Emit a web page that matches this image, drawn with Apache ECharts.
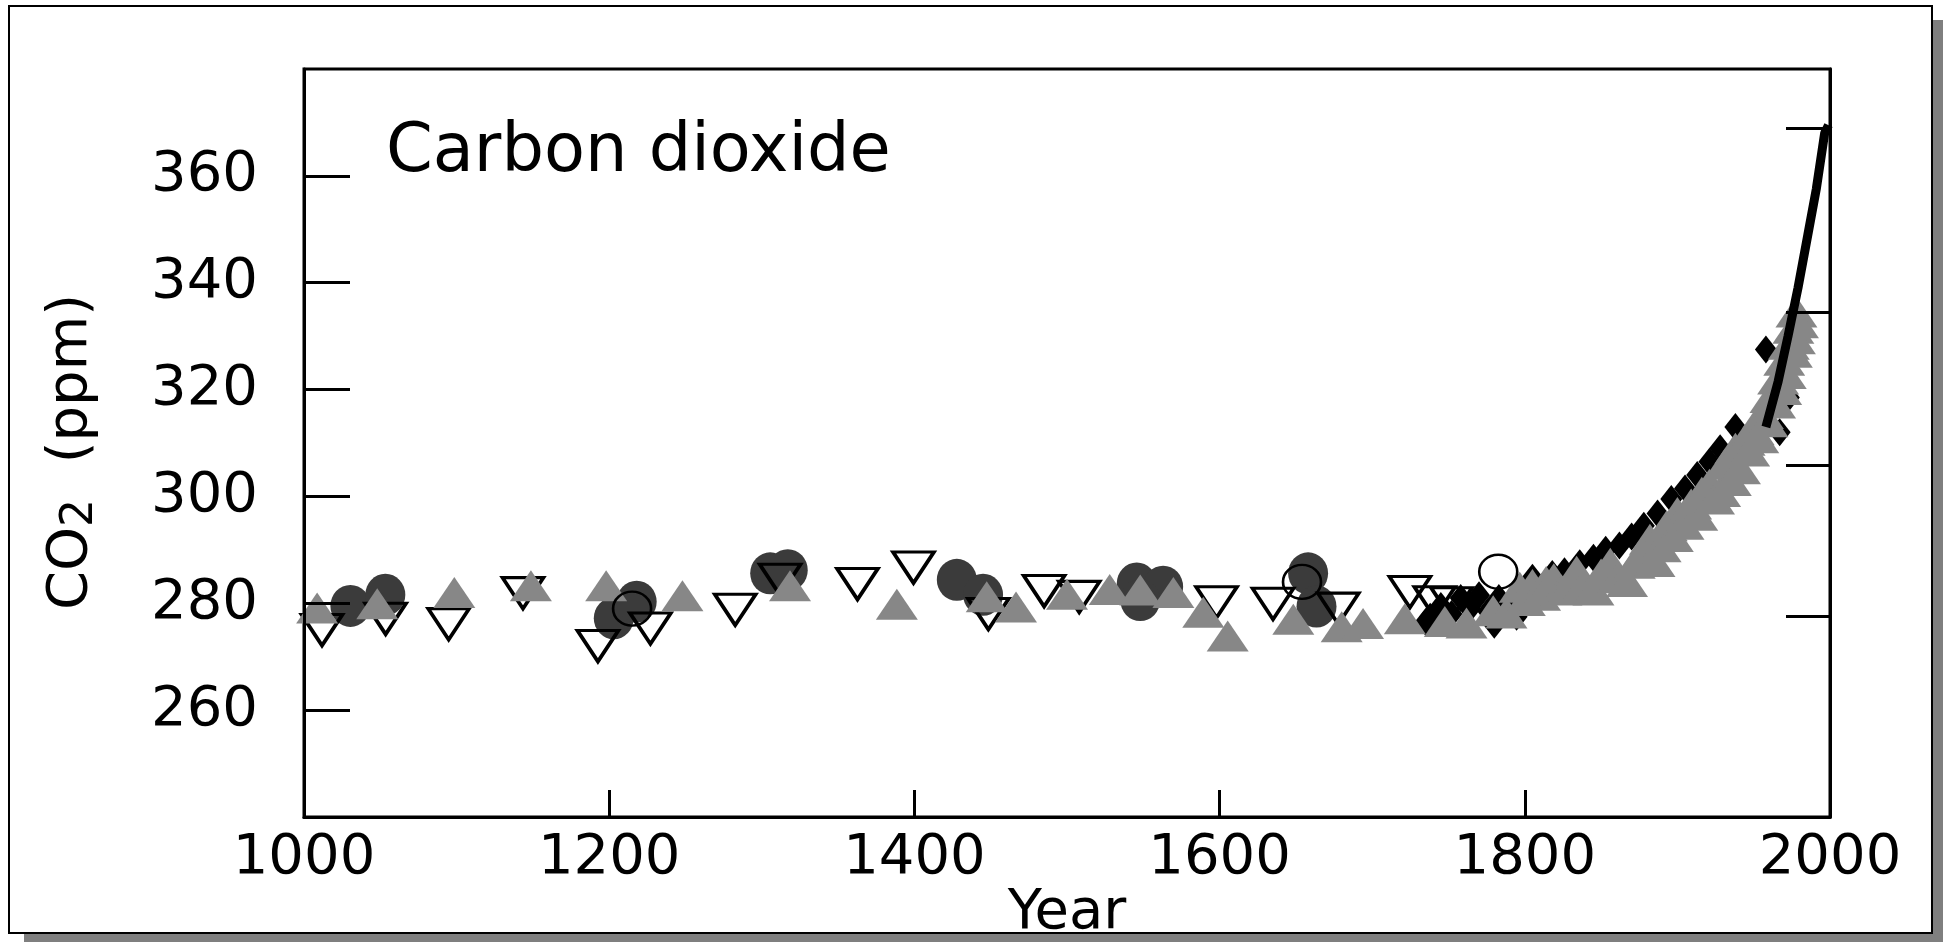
<!DOCTYPE html>
<html>
<head>
<meta charset="utf-8">
<script src="https://cdn.jsdelivr.net/npm/echarts@6/dist/echarts.min.js"></script>
<style>
  html, body { margin: 0; padding: 0; background: #fff; }
  #co2 { width: 1943px; height: 942px; }
</style>
</head>
<body>
<div id="co2"></div>
<script>
// CO2 over the last millennium: [year, ppm]

// grey filled triangles
var greyTri = [
  [1008.6, 279.1], [1048, 279.9], [1098.5, 282.0], [1148.7, 283.3], [1198, 283.3],
  [1248, 281.4], [1318.5, 283.3], [1388.5, 279.8], [1447.4, 281.2], [1466.6, 279.3],
  [1500, 281.7], [1528, 282.6], [1548, 282.5], [1569.7, 282.0], [1589.3, 278.3],
  [1605.3, 273.9], [1648.3, 277.0], [1680, 275.6], [1694, 276.2], [1721.4, 277.1],
  [1747.6, 276.6], [1761.8, 276.3], [1779.3, 278.6], [1788, 278.2], [1796.7, 283.0],
  [1800, 280.5], [1805, 283.5], [1810, 281.5], [1814, 284.1], [1819, 284.6],
  [1824, 282.5], [1829, 283.1], [1834, 286.0], [1839, 283.7], [1845, 282.5],
  [1850, 285.5], [1856, 287.5], [1861, 284.8], [1867, 284.1], [1872, 287.5],
  [1877, 289.5], [1882, 292.0], [1885, 287.8], [1889, 290.6], [1893, 294.5],
  [1897, 292.5], [1900, 297.0], [1904, 294.8], [1909, 298.6], [1913, 296.5],
  [1916, 300.8], [1921, 302.3], [1924, 299.5], [1928, 300.9], [1931, 306.0],
  [1935, 303.0], [1938, 309.0], [1941, 305.2], [1944, 310.5], [1947, 308.5],
  [1950, 312.5], [1953, 311.0], [1956, 315.5], [1959, 314.0], [1961, 318.5],
  [1964, 317.5], [1966, 322.0], [1968, 320.0], [1970, 325.5], [1971, 323.0],
  [1973, 328.5], [1975, 327.0], [1976, 331.5], [1977, 329.5], [1978, 334.5],
  [1979, 332.5]
];

// open down triangles
var openTri = [
  [1011.8, 275.0], [1053.5, 277.1], [1094.8, 276.1], [1143.5, 281.9], [1192.6, 272.0],
  [1227, 275.3], [1282.6, 278.8], [1312, 284.4], [1362.7, 283.6], [1399.4, 286.7],
  [1448.5, 278.0], [1485, 282.3], [1508, 281.2], [1598, 280.2], [1635, 279.9],
  [1677.8, 279.0], [1724.7, 282.1], [1741, 280.2], [1752, 280.0]
];

// dark filled circles
var darkCircle = [
  [1030.4, 279.5], [1053.3, 281.6], [1203, 277.2], [1218, 280.3], [1305.5, 285.6],
  [1317, 286.2], [1427.8, 284.4], [1445, 281.6], [1545.7, 283.7], [1563, 283.1],
  [1548, 280.6], [1658, 285.6], [1663.5, 279.4]
];

// open circles
var openCircle = [[1215, 279.0], [1654, 284.0], [1782.6, 285.9]];

// black diamonds
var blackDiamond = [
  [1735, 276.5], [1738, 277.5], [1745, 279.5], [1752, 278.0], [1758, 281.0],
  [1764, 279.0], [1770, 281.5], [1776, 278.5], [1780, 276.0], [1783, 281.0],
  [1790, 279.0], [1794.6, 277.5], [1797, 282.5], [1800, 280.0], [1805, 284.8],
  [1812, 282.0], [1818, 285.5], [1826, 286.0], [1836, 287.5], [1845, 288.5],
  [1853, 290.0], [1862, 290.8], [1870, 292.5], [1878, 294.5], [1887, 296.8],
  [1896, 299.5], [1905, 301.5], [1913, 304.0], [1921, 306.5], [1928, 309.0],
  [1938, 313.0], [1958, 327.5], [1967, 312.0], [1973, 318.5]
];

// atmospheric record, thick black line
var directLine = [
  [1958, 313.0], [1966, 321.5], [1972.5, 330.0], [1979, 339.0], [1985.5, 349.0],
  [1991, 357.5], [1996.5, 368.0], [1999, 369.5]
];

var xTicks = [1000, 1200, 1400, 1600, 1800, 2000];
var yTicks = [260, 280, 300, 320, 340, 360];
var rightTicks = [277.5, 305.8, 334.4, 369.0];

var font = 'DejaVu Sans';
var myChart = echarts.init(document.getElementById('co2'));

var option = {
  animation: false,
  backgroundColor: '#fff',
  graphic: {
    elements: [
      { type: 'rect', z: -100, shape: { x: 24, y: 20, width: 1925, height: 930 }, style: { fill: '#7f7f7f' } },
      { type: 'rect', z: -99, shape: { x: 9, y: 6, width: 1923, height: 927 }, style: { fill: '#fff', stroke: '#000', lineWidth: 2 } }
    ]
  },
  title: {
    text: 'Carbon dioxide',
    left: 386,
    top: 120,
    padding: 0,
    textStyle: { fontFamily: font, fontSize: 67, fontWeight: 'normal', color: '#000' }
  },
  grid: {
    left: 304, right: 113, top: 69, bottom: 125,
    outerBoundsMode: 'none',
    containLabel: false,
    show: true, borderColor: '#000', borderWidth: 3, backgroundColor: 'transparent'
  },
  xAxis: {
    type: 'value', min: 1000, max: 2000, interval: 200, z: 5,
    axisLine: { show: true, lineStyle: { color: '#000', width: 3 } },
    axisTick: { inside: true, length: 27, customValues: xTicks, lineStyle: { color: '#000', width: 3 } },
    axisLabel: {
      customValues: xTicks, margin: 13, fontFamily: font, fontSize: 56, color: '#000',
      formatter: function (v) { return String(v); }
    },
    splitLine: { show: false },
    name: 'Year', nameLocation: 'middle', nameGap: 68, nameMoveOverlap: false,
    nameTextStyle: { fontFamily: font, fontSize: 56, color: '#000' }
  },
  yAxis: [{
    type: 'value', min: 240, max: 380, interval: 20, z: 5,
    axisLine: { show: true, lineStyle: { color: '#000', width: 3 } },
    axisTick: { inside: true, length: 46, customValues: yTicks, lineStyle: { color: '#000', width: 3 } },
    axisLabel: { customValues: yTicks, margin: 46, fontFamily: font, fontSize: 56, color: '#000' },
    splitLine: { show: false },
    name: '{m|CO}{s|2}{m|  (ppm)}', nameLocation: 'middle', nameGap: 201, nameMoveOverlap: false,
    nameTextStyle: {
      color: '#000',
      padding: [0, 18, 0, 0],
      rich: {
        m: { fontFamily: font, fontSize: 56, lineHeight: 64, color: '#000' },
        s: { fontFamily: font, fontSize: 44, lineHeight: 18, verticalAlign: 'bottom', color: '#000' }
      }
    }
  }, {
    type: 'value', position: 'right', min: 240, max: 380, z: 5,
    axisLine: { show: true, lineStyle: { color: '#000', width: 3 } },
    axisTick: { inside: true, length: 44, customValues: rightTicks, lineStyle: { color: '#000', width: 3 } },
    axisLabel: { show: false },
    splitLine: { show: false }
  }],
  series: [
    {
      type: 'scatter', name: 'darkCircle', z: 2, data: darkCircle,
      symbol: 'circle', symbolSize: [40, 42],
      itemStyle: { color: '#3b3b3b', opacity: 1 }
    },
    {
      type: 'scatter', name: 'openTri', z: 3, data: openTri,
      symbol: 'triangle', symbolRotate: 180, symbolSize: [41, 31],
      itemStyle: { color: 'rgba(0,0,0,0)', borderColor: '#000', borderWidth: 3.5, opacity: 1 }
    },
    {
      type: 'scatter', name: 'blackDiamond', z: 3, data: blackDiamond,
      symbol: 'diamond', symbolSize: [22, 28],
      itemStyle: { color: '#000', opacity: 1 }
    },
    {
      type: 'scatter', name: 'greyTri', z: 4, data: greyTri,
      symbol: 'triangle', symbolSize: [42, 31],
      itemStyle: { color: '#878787', opacity: 1 }
    },
    {
      type: 'scatter', name: 'openCircle', z: 4, data: openCircle,
      symbol: 'circle', symbolSize: [38, 34],
      itemStyle: { color: 'rgba(0,0,0,0)', borderColor: '#000', borderWidth: 2.5, opacity: 1 }
    },
    {
      type: 'line', name: 'direct', z: 6, data: directLine,
      showSymbol: false, symbol: 'none',
      lineStyle: { color: '#000', width: 9 }
    }
  ]
};

myChart.setOption(option);
</script>
</body>
</html>
